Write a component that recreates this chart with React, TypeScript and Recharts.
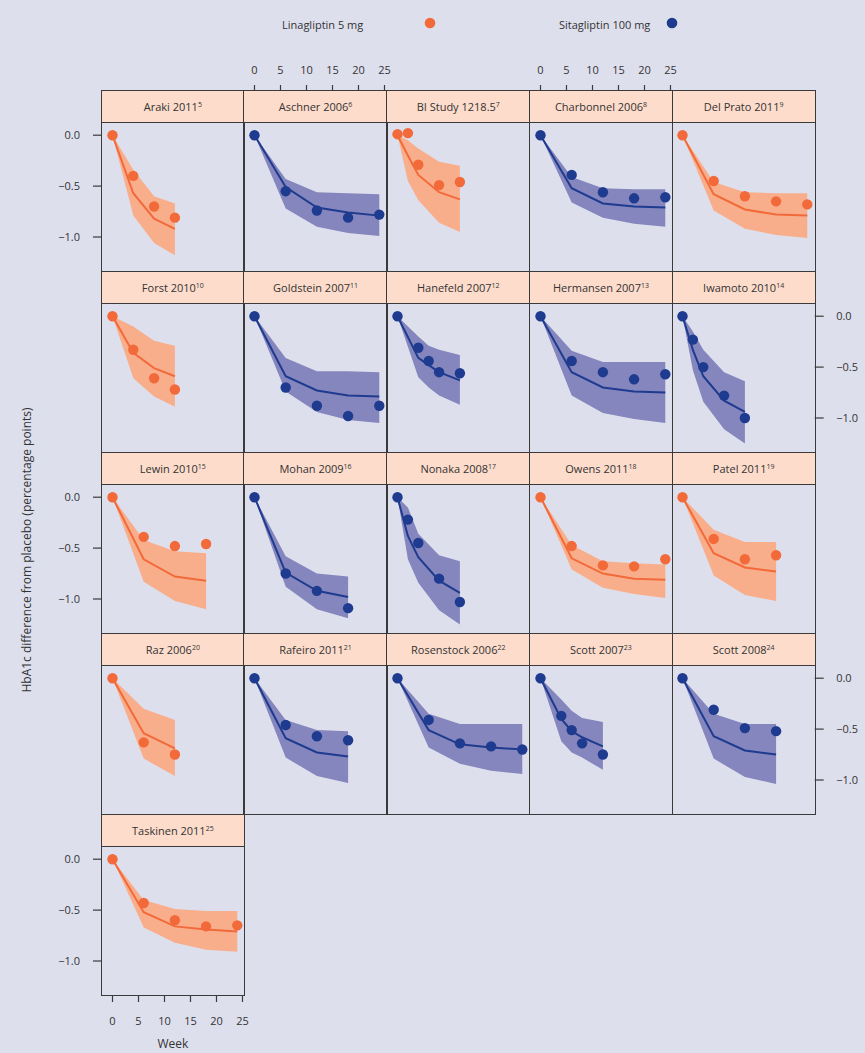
import React from 'react';
import { ComposedChart, Area, Line, Scatter, XAxis, YAxis } from 'recharts';

// colours
const BG = '#dedfed';
const STRIP = '#fddccb';
const EDGE = '#3a3a3a';
const TXT = '#333333';
const LINA = '#f26a3a';
const LINA_BAND = '#f9ae8b';
const SITA = '#1f3b8f';
const SITA_BAND = '#8486bd';

const WEEK_TICKS = [0, 5, 10, 15, 20, 25];
const HBA_TICKS = [0, -0.5, -1];

// observed (obs), model fit and its band (lo / hi), HbA1c change vs placebo
const ARAKI_WK = [0, 4, 8, 12];
const ARAKI_OBS = [0, -0.4, -0.7, -0.81];
const ARAKI_FIT = [0, -0.57, -0.82, -0.92];
const ARAKI_LO = [0, -0.79, -1.06, -1.18];
const ARAKI_HI = [0, -0.34, -0.6, -0.67];

const ASCHNER_WK = [0, 6, 12, 18, 24];
const ASCHNER_OBS = [0, -0.55, -0.74, -0.81, -0.78];
const ASCHNER_FIT = [0, -0.51, -0.71, -0.76, -0.79];
const ASCHNER_LO = [0, -0.72, -0.9, -0.96, -0.99];
const ASCHNER_HI = [0, -0.43, -0.56, -0.57, -0.58];

const BI_WK = [0, 2, 4, 8, 12];
const BI_OBS = [0.01, 0.02, -0.29, -0.49, -0.46];
const BI_FIT = [0, -0.2, -0.39, -0.56, -0.63];
const BI_LO = [0, -0.45, -0.64, -0.86, -0.95];
const BI_HI = [0, -0.05, -0.13, -0.26, -0.3];

const CHARBONNEL_WK = [0, 6, 12, 18, 24];
const CHARBONNEL_OBS = [0, -0.39, -0.56, -0.62, -0.61];
const CHARBONNEL_FIT = [0, -0.52, -0.67, -0.7, -0.71];
const CHARBONNEL_LO = [0, -0.66, -0.81, -0.87, -0.9];
const CHARBONNEL_HI = [0, -0.41, -0.52, -0.53, -0.53];

const DELPRATO_WK = [0, 6, 12, 18, 24];
const DELPRATO_OBS = [0, -0.45, -0.6, -0.65, -0.68];
const DELPRATO_FIT = [0, -0.58, -0.73, -0.78, -0.79];
const DELPRATO_LO = [0, -0.74, -0.92, -0.98, -1.01];
const DELPRATO_HI = [0, -0.46, -0.56, -0.57, -0.57];

const FORST_WK = [0, 4, 8, 12];
const FORST_OBS = [0, -0.33, -0.61, -0.72];
const FORST_FIT = [0, -0.36, -0.51, -0.59];
const FORST_LO = [0, -0.61, -0.79, -0.89];
const FORST_HI = [0, -0.1, -0.24, -0.29];

const GOLDSTEIN_WK = [0, 6, 12, 18, 24];
const GOLDSTEIN_OBS = [0, -0.7, -0.88, -0.98, -0.88];
const GOLDSTEIN_FIT = [0, -0.59, -0.73, -0.78, -0.79];
const GOLDSTEIN_LO = [0, -0.74, -0.94, -1.02, -1.05];
const GOLDSTEIN_HI = [0, -0.41, -0.54, -0.54, -0.55];

const HANEFELD_WK = [0, 4, 6, 8, 12];
const HANEFELD_OBS = [0, -0.31, -0.44, -0.55, -0.56];
const HANEFELD_FIT = [0, -0.41, -0.48, -0.55, -0.63];
const HANEFELD_LO = [0, -0.6, -0.7, -0.78, -0.87];
const HANEFELD_HI = [0, -0.2, -0.29, -0.33, -0.38];

const HERMANSEN_WK = [0, 6, 12, 18, 24];
const HERMANSEN_OBS = [0, -0.44, -0.55, -0.62, -0.57];
const HERMANSEN_FIT = [0, -0.55, -0.7, -0.74, -0.75];
const HERMANSEN_LO = [0, -0.78, -0.95, -1.01, -1.05];
const HERMANSEN_HI = [0, -0.34, -0.45, -0.45, -0.45];

const IWAMOTO_WK = [0, 2, 4, 8, 12];
const IWAMOTO_OBS = [0, -0.23, -0.5, -0.78, -1.0];
const IWAMOTO_FIT = [0, -0.33, -0.59, -0.83, -0.94];
const IWAMOTO_LO = [0, -0.53, -0.84, -1.11, -1.25];
const IWAMOTO_HI = [0, -0.15, -0.33, -0.55, -0.64];

const LEWIN_WK = [0, 6, 12, 18];
const LEWIN_OBS = [0, -0.39, -0.48, -0.46];
const LEWIN_FIT = [0, -0.61, -0.78, -0.82];
const LEWIN_LO = [0, -0.83, -1.02, -1.1];
const LEWIN_HI = [0, -0.42, -0.53, -0.55];

const MOHAN_WK = [0, 6, 12, 18];
const MOHAN_OBS = [0, -0.75, -0.92, -1.09];
const MOHAN_FIT = [0, -0.74, -0.92, -0.98];
const MOHAN_LO = [0, -0.88, -1.1, -1.19];
const MOHAN_HI = [0, -0.58, -0.75, -0.78];

const NONAKA_WK = [0, 2, 4, 8, 12];
const NONAKA_OBS = [0, -0.22, -0.45, -0.8, -1.03];
const NONAKA_FIT = [0, -0.38, -0.59, -0.82, -0.94];
const NONAKA_LO = [0, -0.61, -0.84, -1.11, -1.25];
const NONAKA_HI = [0, -0.1, -0.36, -0.57, -0.63];

const OWENS_WK = [0, 6, 12, 18, 24];
const OWENS_OBS = [0, -0.48, -0.67, -0.68, -0.61];
const OWENS_FIT = [0, -0.6, -0.75, -0.8, -0.81];
const OWENS_LO = [0, -0.71, -0.89, -0.95, -0.99];
const OWENS_HI = [0, -0.47, -0.63, -0.65, -0.66];

const PATEL_WK = [0, 6, 12, 18];
const PATEL_OBS = [0, -0.41, -0.61, -0.57];
const PATEL_FIT = [0, -0.55, -0.69, -0.73];
const PATEL_LO = [0, -0.77, -0.96, -1.02];
const PATEL_HI = [0, -0.32, -0.44, -0.44];

const RAZ_WK = [0, 6, 12];
const RAZ_OBS = [0, -0.63, -0.75];
const RAZ_FIT = [0, -0.54, -0.69];
const RAZ_LO = [0, -0.79, -0.96];
const RAZ_HI = [0, -0.3, -0.41];

const RAFEIRO_WK = [0, 6, 12, 18];
const RAFEIRO_OBS = [0, -0.46, -0.57, -0.61];
const RAFEIRO_FIT = [0, -0.59, -0.73, -0.77];
const RAFEIRO_LO = [0, -0.78, -0.96, -1.03];
const RAFEIRO_HI = [0, -0.41, -0.51, -0.52];

const ROSENSTOCK_WK = [0, 6, 12, 18, 24];
const ROSENSTOCK_OBS = [0, -0.41, -0.64, -0.67, -0.7];
const ROSENSTOCK_FIT = [0, -0.51, -0.65, -0.68, -0.7];
const ROSENSTOCK_LO = [0, -0.68, -0.84, -0.91, -0.94];
const ROSENSTOCK_HI = [0, -0.35, -0.45, -0.45, -0.45];

const SCOTT07_WK = [0, 4, 6, 8, 12];
const SCOTT07_OBS = [0, -0.37, -0.51, -0.64, -0.75];
const SCOTT07_FIT = [0, -0.4, -0.52, -0.58, -0.67];
const SCOTT07_LO = [0, -0.62, -0.73, -0.78, -0.9];
const SCOTT07_HI = [0, -0.21, -0.32, -0.39, -0.43];

const SCOTT08_WK = [0, 6, 12, 18];
const SCOTT08_OBS = [0, -0.31, -0.49, -0.52];
const SCOTT08_FIT = [0, -0.57, -0.71, -0.75];
const SCOTT08_LO = [0, -0.79, -0.97, -1.04];
const SCOTT08_HI = [0, -0.35, -0.45, -0.45];

const TASKINEN_WK = [0, 6, 12, 18, 24];
const TASKINEN_OBS = [0, -0.43, -0.6, -0.66, -0.65];
const TASKINEN_FIT = [0, -0.52, -0.66, -0.69, -0.71];
const TASKINEN_LO = [0, -0.67, -0.82, -0.89, -0.91];
const TASKINEN_HI = [0, -0.4, -0.49, -0.51, -0.51];

type Drug = 'lina' | 'sita';
interface Study {
  name: string;
  ref: number;
  drug: Drug;
  wk: number[];
  obs: number[];
  fit: number[];
  lo: number[];
  hi: number[];
}

const mk = (name: string, ref: number, drug: Drug, wk: number[], obs: number[], fit: number[], lo: number[], hi: number[]): Study =>
  ({ name, ref, drug, wk, obs, fit, lo, hi });

const STUDIES: Study[] = [
  mk('Araki 2011', 5, 'lina', ARAKI_WK, ARAKI_OBS, ARAKI_FIT, ARAKI_LO, ARAKI_HI),
  mk('Aschner 2006', 6, 'sita', ASCHNER_WK, ASCHNER_OBS, ASCHNER_FIT, ASCHNER_LO, ASCHNER_HI),
  mk('BI Study 1218.5', 7, 'lina', BI_WK, BI_OBS, BI_FIT, BI_LO, BI_HI),
  mk('Charbonnel 2006', 8, 'sita', CHARBONNEL_WK, CHARBONNEL_OBS, CHARBONNEL_FIT, CHARBONNEL_LO, CHARBONNEL_HI),
  mk('Del Prato 2011', 9, 'lina', DELPRATO_WK, DELPRATO_OBS, DELPRATO_FIT, DELPRATO_LO, DELPRATO_HI),
  mk('Forst 2010', 10, 'lina', FORST_WK, FORST_OBS, FORST_FIT, FORST_LO, FORST_HI),
  mk('Goldstein 2007', 11, 'sita', GOLDSTEIN_WK, GOLDSTEIN_OBS, GOLDSTEIN_FIT, GOLDSTEIN_LO, GOLDSTEIN_HI),
  mk('Hanefeld 2007', 12, 'sita', HANEFELD_WK, HANEFELD_OBS, HANEFELD_FIT, HANEFELD_LO, HANEFELD_HI),
  mk('Hermansen 2007', 13, 'sita', HERMANSEN_WK, HERMANSEN_OBS, HERMANSEN_FIT, HERMANSEN_LO, HERMANSEN_HI),
  mk('Iwamoto 2010', 14, 'sita', IWAMOTO_WK, IWAMOTO_OBS, IWAMOTO_FIT, IWAMOTO_LO, IWAMOTO_HI),
  mk('Lewin 2010', 15, 'lina', LEWIN_WK, LEWIN_OBS, LEWIN_FIT, LEWIN_LO, LEWIN_HI),
  mk('Mohan 2009', 16, 'sita', MOHAN_WK, MOHAN_OBS, MOHAN_FIT, MOHAN_LO, MOHAN_HI),
  mk('Nonaka 2008', 17, 'sita', NONAKA_WK, NONAKA_OBS, NONAKA_FIT, NONAKA_LO, NONAKA_HI),
  mk('Owens 2011', 18, 'lina', OWENS_WK, OWENS_OBS, OWENS_FIT, OWENS_LO, OWENS_HI),
  mk('Patel 2011', 19, 'lina', PATEL_WK, PATEL_OBS, PATEL_FIT, PATEL_LO, PATEL_HI),
  mk('Raz 2006', 20, 'lina', RAZ_WK, RAZ_OBS, RAZ_FIT, RAZ_LO, RAZ_HI),
  mk('Rafeiro 2011', 21, 'sita', RAFEIRO_WK, RAFEIRO_OBS, RAFEIRO_FIT, RAFEIRO_LO, RAFEIRO_HI),
  mk('Rosenstock 2006', 22, 'sita', ROSENSTOCK_WK, ROSENSTOCK_OBS, ROSENSTOCK_FIT, ROSENSTOCK_LO, ROSENSTOCK_HI),
  mk('Scott 2007', 23, 'sita', SCOTT07_WK, SCOTT07_OBS, SCOTT07_FIT, SCOTT07_LO, SCOTT07_HI),
  mk('Scott 2008', 24, 'sita', SCOTT08_WK, SCOTT08_OBS, SCOTT08_FIT, SCOTT08_LO, SCOTT08_HI),
  mk('Taskinen 2011', 25, 'lina', TASKINEN_WK, TASKINEN_OBS, TASKINEN_FIT, TASKINEN_LO, TASKINEN_HI),
];

// grid geometry (page px)
const GRID_X = 101.5;
const GRID_Y = 90.7;
const COL_W = 142.7;
const ROW_H = 181;
const HEAD_H = 31.8;
const ZERO_Y = 44.2; // 0.0 line below panel top
const PX_PER_UNIT = 101.8;
const WEEK0_X = 10.5;
const PX_PER_WEEK = 5.2;
const NCOL = 5;

// the strip sits inside the y range, above the data
const Y_DOMAIN: [number, number] = [-(ROW_H - ZERO_Y) / PX_PER_UNIT, ZERO_Y / PX_PER_UNIT];
const X_DOMAIN: [number, number] = [-WEEK0_X / PX_PER_WEEK, (COL_W - WEEK0_X) / PX_PER_WEEK];

const ML = 45, MR = 50, MT = 30, MB = 40;

const tickStyle = { fontSize: 11, fill: TXT };
const fmtY = (v: number) => (v === 0 ? '0.0' : '\u2212' + Math.abs(v).toFixed(1));

const Panel = ({ s, idx }: { s: Study; idx: number }) => {
  const r = Math.floor(idx / NCOL);
  const c = idx % NCOL;
  const last = idx === STUDIES.length - 1;
  const top = r === 0;
  const left = c === 0;
  const right = c === NCOL - 1 || last;
  const bottom = last;
  const x0 = GRID_X + c * COL_W;
  const y0 = GRID_Y + r * ROW_H;
  const col = s.drug === 'lina' ? LINA : SITA;
  const band = s.drug === 'lina' ? LINA_BAND : SITA_BAND;
  const rows = s.wk.map((w, i) => ({ wk: w, obs: s.obs[i], fit: s.fit[i], band: [s.lo[i], s.hi[i]] }));

  return (
    <>
      <div style={{ position: 'absolute', left: x0 - ML, top: y0 - MT }}>
        <ComposedChart
          width={ML + COL_W + MR}
          height={MT + ROW_H + MB}
          data={rows}
          margin={{ top: top ? 0 : MT, left: left ? 0 : ML, right: right ? 0 : MR, bottom: bottom ? 0 : MB }}
        >
          <XAxis
            xAxisId="b"
            type="number"
            dataKey="wk"
            domain={X_DOMAIN}
            allowDataOverflow
            ticks={WEEK_TICKS}
            hide={!bottom}
            height={MB}
            axisLine={false}
            tickSize={6}
            tickMargin={15}
            tickLine={{ stroke: EDGE, strokeWidth: 1.2 }}
            tick={tickStyle}
          />
          {top && (
            <XAxis
              xAxisId="t"
              orientation="top"
              type="number"
              dataKey="wk"
              domain={X_DOMAIN}
              allowDataOverflow
              ticks={WEEK_TICKS}
              height={MT}
              axisLine={false}
              tickSize={6}
              tickMargin={11}
              tickLine={{ stroke: EDGE, strokeWidth: 1.2 }}
              tick={c === 1 || c === 3 ? tickStyle : false}
            />
          )}
          <YAxis
            yAxisId="l"
            type="number"
            domain={Y_DOMAIN}
            allowDataOverflow
            ticks={HBA_TICKS}
            hide={!left}
            width={ML}
            axisLine={false}
            tickSize={9}
            tickMargin={13}
            tickLine={{ stroke: EDGE, strokeWidth: 1.2 }}
            tick={r % 2 === 0 ? tickStyle : false}
            tickFormatter={fmtY}
          />
          {right && (
            <YAxis
              yAxisId="r"
              orientation="right"
              type="number"
              domain={Y_DOMAIN}
              allowDataOverflow
              ticks={HBA_TICKS}
              width={MR}
              axisLine={false}
              tickSize={9}
              tickMargin={12.5}
              tickLine={{ stroke: EDGE, strokeWidth: 1.2 }}
              tick={r % 2 === 1 ? tickStyle : false}
              tickFormatter={fmtY}
            />
          )}
          <Area
            xAxisId="b"
            yAxisId="l"
            type="linear"
            dataKey="band"
            fill={band}
            fillOpacity={1}
            stroke="none"
            isAnimationActive={false}
          />
          <Line
            xAxisId="b"
            yAxisId="l"
            type="linear"
            dataKey="fit"
            stroke={col}
            strokeWidth={2}
            dot={false}
            isAnimationActive={false}
          />
          <Scatter
            xAxisId="b"
            yAxisId="l"
            dataKey="obs"
            fill={col}
            isAnimationActive={false}
            shape={(p: any) => <circle cx={p.cx} cy={p.cy} r={5.2} fill={col} />}
          />
        </ComposedChart>
      </div>
      {/* strip */}
      <div
        style={{
          position: 'absolute',
          left: x0 - 0.75,
          top: y0 - 0.75,
          width: COL_W + 1.5,
          height: HEAD_H + 1.5,
          boxSizing: 'border-box',
          border: `1.5px solid ${EDGE}`,
          background: STRIP,
          color: TXT,
          fontSize: 11,
          lineHeight: `${HEAD_H}px`,
          textAlign: 'center',
          whiteSpace: 'nowrap',
        }}
      >
        {s.name}
        <span style={{ fontSize: 7, position: 'relative', top: -4 }}>{s.ref}</span>
      </div>
      {/* panel frame */}
      <div
        style={{
          position: 'absolute',
          left: x0 - 0.75,
          top: y0 - 0.75,
          width: COL_W + 1.5,
          height: ROW_H + 1.5,
          boxSizing: 'border-box',
          border: `1.5px solid ${EDGE}`,
          pointerEvents: 'none',
        }}
      />
    </>
  );
};

const LegendItem = ({ label, color, x, dotX }: { label: string; color: string; x: number; dotX: number }) => (
  <>
    <div style={{ position: 'absolute', left: x, top: 16, fontSize: 11, color: TXT, lineHeight: '18px', whiteSpace: 'nowrap' }}>
      {label}
    </div>
    <svg style={{ position: 'absolute', left: dotX - 6, top: 17 }} width={12} height={12}>
      <circle cx={6} cy={6} r={5.3} fill={color} />
    </svg>
  </>
);

export default function App() {
  return (
    <div
      style={{
        position: 'absolute',
        left: 0,
        top: 0,
        width: 865,
        height: 1053,
        overflow: 'hidden',
        background: BG,
        fontFamily: '"Open Sans", "DejaVu Sans", sans-serif',
        color: TXT,
      }}
    >
      <LegendItem label="Linagliptin 5 mg" color={LINA} x={282} dotX={430} />
      <LegendItem label="Sitagliptin 100 mg" color={SITA} x={559} dotX={672} />

      {STUDIES.map((s, i) => (
        <Panel key={s.name} s={s} idx={i} />
      ))}

      {/* x title under the only bottom axis */}
      <div
        style={{
          position: 'absolute',
          left: GRID_X,
          width: COL_W,
          top: 1036,
          textAlign: 'center',
          fontSize: 12,
          lineHeight: '16px',
          color: TXT,
        }}
      >
        Week
      </div>

      <div
        style={{
          position: 'absolute',
          left: 26,
          top: 550,
          transform: 'translate(-50%, -50%) rotate(-90deg)',
          fontSize: 12,
          whiteSpace: 'nowrap',
          color: TXT,
        }}
      >
        HbA1c difference from placebo (percentage points)
      </div>
    </div>
  );
}
